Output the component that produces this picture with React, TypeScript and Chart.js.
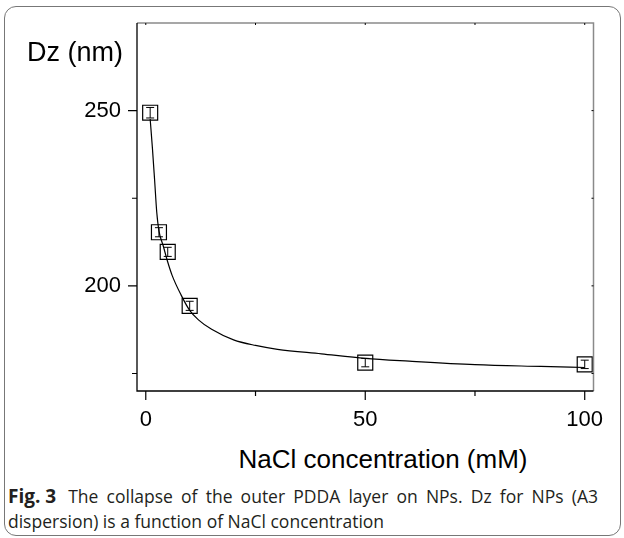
import React, { useEffect, useRef } from 'react';
import { Chart, registerables } from 'chart.js';

Chart.register(...registerables);

// Measured data (NaCl concentration in mM vs Dz in nm)
const concentrations = [1, 3, 5, 10, 50, 100];
const dzValues = [249.4, 215.3, 209.7, 194.3, 178.1, 177.6];
const dzErrors = [1.5, 1.3, 1.3, 1.3, 1.2, 1.2];

// Fitted curve
const fitX = [1, 1.5, 2, 2.5, 3, 4, 5, 6, 8, 10, 12, 15, 20, 25, 30, 40, 50, 60, 75, 90, 100];
const fitY = [247.6, 239.5, 230.4, 221, 215.7, 211.3, 206.8, 203, 197.5, 193, 190.3, 187.6, 184.6, 183, 181.9, 180.6, 179.3, 178.5, 177.5, 177, 176.7];

// Axis ticks
const xMajorTicks = [0, 50, 100];
const xMinorTicks = [25, 75];
const yMajorTicks = [200, 250];
const yMinorTicks = [175, 225];
const xRange = [-2, 102];
const yRange = [170, 275];

const FONT = "'Liberation Sans', Arial, sans-serif";
const CANVAS_W = 624;
const CANVAS_H = 430;

const errorBarPlugin = {
  id: 'errorBars',
  afterDatasetsDraw(chart: any) {
    const meta = chart.getDatasetMeta(0);
    const yScale = chart.scales.y;
    const ctx = chart.ctx;
    ctx.save();
    ctx.strokeStyle = '#000';
    ctx.lineWidth = 1;
    meta.data.forEach((pt: any, i: number) => {
      const x = pt.x;
      const yTop = yScale.getPixelForValue(dzValues[i] + dzErrors[i]);
      const yBot = yScale.getPixelForValue(dzValues[i] - dzErrors[i]);
      const cap = 4;
      ctx.beginPath();
      ctx.moveTo(x, yTop);
      ctx.lineTo(x, yBot);
      ctx.moveTo(x - cap, yTop);
      ctx.lineTo(x + cap, yTop);
      ctx.moveTo(x - cap, yBot);
      ctx.lineTo(x + cap, yBot);
      ctx.stroke();
    });
    ctx.restore();
  },
};

const framePlugin = {
  id: 'frameAxes',
  afterDraw(chart: any) {
    const { ctx, chartArea } = chart;
    const xs = chart.scales.x;
    const ys = chart.scales.y;
    const { left, right, top, bottom } = chartArea;
    ctx.save();
    // top & right axes (gray)
    ctx.strokeStyle = '#8a8a8a';
    ctx.lineWidth = 1.5;
    ctx.beginPath();
    ctx.moveTo(left, top);
    ctx.lineTo(right, top);
    ctx.lineTo(right, bottom);
    ctx.stroke();
    // inner small ticks on top/right
    ctx.strokeStyle = '#000';
    ctx.lineWidth = 1;
    ctx.beginPath();
    [...xMajorTicks, ...xMinorTicks].forEach((v) => {
      const px = xs.getPixelForValue(v);
      ctx.moveTo(px, top);
      ctx.lineTo(px, top + 2);
    });
    [...yMajorTicks, ...yMinorTicks].forEach((v) => {
      const py = ys.getPixelForValue(v);
      ctx.moveTo(right, py);
      ctx.lineTo(right - 2, py);
    });
    ctx.stroke();
    // left & bottom axes (black)
    ctx.strokeStyle = '#000';
    ctx.lineWidth = 1.3;
    ctx.beginPath();
    ctx.moveTo(left, top);
    ctx.lineTo(left, bottom);
    ctx.lineTo(right, bottom);
    ctx.stroke();
    // outward ticks
    ctx.lineWidth = 1.2;
    ctx.beginPath();
    xMajorTicks.forEach((v) => {
      const px = xs.getPixelForValue(v);
      ctx.moveTo(px, bottom);
      ctx.lineTo(px, bottom + 9);
    });
    xMinorTicks.forEach((v) => {
      const px = xs.getPixelForValue(v);
      ctx.moveTo(px, bottom);
      ctx.lineTo(px, bottom + 5);
    });
    yMajorTicks.forEach((v) => {
      const py = ys.getPixelForValue(v);
      ctx.moveTo(left, py);
      ctx.lineTo(left - 9, py);
    });
    yMinorTicks.forEach((v) => {
      const py = ys.getPixelForValue(v);
      ctx.moveTo(left, py);
      ctx.lineTo(left - 5, py);
    });
    ctx.stroke();
    ctx.restore();
  },
};

export default function App() {
  const canvasRef = useRef<HTMLCanvasElement | null>(null);

  useEffect(() => {
    if (!canvasRef.current) return;
    const chart = new Chart(canvasRef.current, {
      type: 'scatter',
      data: {
        datasets: [
          {
            label: 'Dz',
            data: concentrations.map((c, i) => ({ x: c, y: dzValues[i] })),
            pointStyle: 'rect',
            pointRadius: 10.6,
            pointHoverRadius: 10.6,
            pointBorderWidth: 1.2,
            pointBorderColor: '#000',
            pointBackgroundColor: 'rgba(0,0,0,0)',
            showLine: false,
          } as any,
          {
            label: 'fit',
            data: fitX.map((x, i) => ({ x, y: fitY[i] })),
            showLine: true,
            borderColor: '#000',
            borderWidth: 1.2,
            pointRadius: 0,
            cubicInterpolationMode: 'monotone',
            fill: false,
          } as any,
        ],
      },
      options: {
        animation: false,
        responsive: false,
        events: [],
        layout: { padding: { top: 23, right: 30.5, left: 0, bottom: 0 } },
        plugins: { legend: { display: false }, tooltip: { enabled: false } },
        scales: {
          x: {
            type: 'linear',
            min: xRange[0],
            max: xRange[1],
            afterBuildTicks: (scale: any) => {
              scale.ticks = xMajorTicks.map((v) => ({ value: v }));
            },
            afterFit: (scale: any) => {
              scale.height = CANVAS_H - 391;
            },
            grid: { display: true, drawOnChartArea: false, color: 'rgba(0,0,0,0)', tickLength: 9 },
            border: { display: false },
            ticks: {
              color: '#000',
              padding: 7,
              maxRotation: 0,
              font: { family: FONT, size: 22 },
              callback: (v: any) => String(v),
            },
          },
          y: {
            type: 'linear',
            min: yRange[0],
            max: yRange[1],
            afterBuildTicks: (scale: any) => {
              scale.ticks = yMajorTicks.map((v) => ({ value: v }));
            },
            afterFit: (scale: any) => {
              scale.width = 137;
            },
            grid: { display: true, drawOnChartArea: false, color: 'rgba(0,0,0,0)', tickLength: 9 },
            border: { display: false },
            ticks: {
              color: '#000',
              padding: 7,
              font: { family: FONT, size: 22 },
              callback: (v: any) => String(v),
            },
          },
        },
      },
      plugins: [errorBarPlugin, framePlugin],
    });
    return () => chart.destroy();
  }, []);

  const captionFont = "'Open Sans', 'Noto Sans', sans-serif";

  return (
    <div style={{ position: 'absolute', left: 0, top: 0, width: 624, height: 538, background: '#fff', overflow: 'hidden' }}>
      <div
        style={{
          position: 'absolute',
          left: 4,
          top: 6,
          width: 617,
          height: 530,
          boxSizing: 'border-box',
          border: '1.5px solid #777',
          borderRadius: 12,
        }}
      />
      <canvas
        ref={canvasRef}
        width={CANVAS_W}
        height={CANVAS_H}
        style={{ position: 'absolute', left: 0, top: 0, width: CANVAS_W, height: CANVAS_H }}
      />
      <div
        style={{
          position: 'absolute',
          left: 27,
          top: 39,
          fontFamily: FONT,
          fontSize: 27,
          lineHeight: '27px',
          color: '#000',
          whiteSpace: 'nowrap',
        }}
      >
        Dz (nm)
      </div>
      <div
        style={{
          position: 'absolute',
          left: 183,
          width: 400,
          top: 446,
          textAlign: 'center',
          fontFamily: FONT,
          fontSize: 26,
          lineHeight: '26px',
          color: '#000',
          whiteSpace: 'nowrap',
        }}
      >
        NaCl concentration (mM)
      </div>
      <div
        style={{
          position: 'absolute',
          left: 8,
          top: 484,
          width: 590,
          fontFamily: captionFont,
          fontSize: 17.5,
          lineHeight: '25px',
          color: '#231f20',
        }}
      >
        <div style={{ display: 'flex', alignItems: 'baseline', whiteSpace: 'nowrap' }}>
          <span style={{ fontWeight: 700, fontSize: 19 }}>Fig. 3</span>
          <span style={{ flex: 1, paddingLeft: 12, textAlign: 'justify', textAlignLast: 'justify' }}>
            The collapse of the outer PDDA layer on NPs. Dz for NPs (A3
          </span>
        </div>
        <div style={{ whiteSpace: 'nowrap' }}>dispersion) is a function of NaCl concentration</div>
      </div>
    </div>
  );
}
